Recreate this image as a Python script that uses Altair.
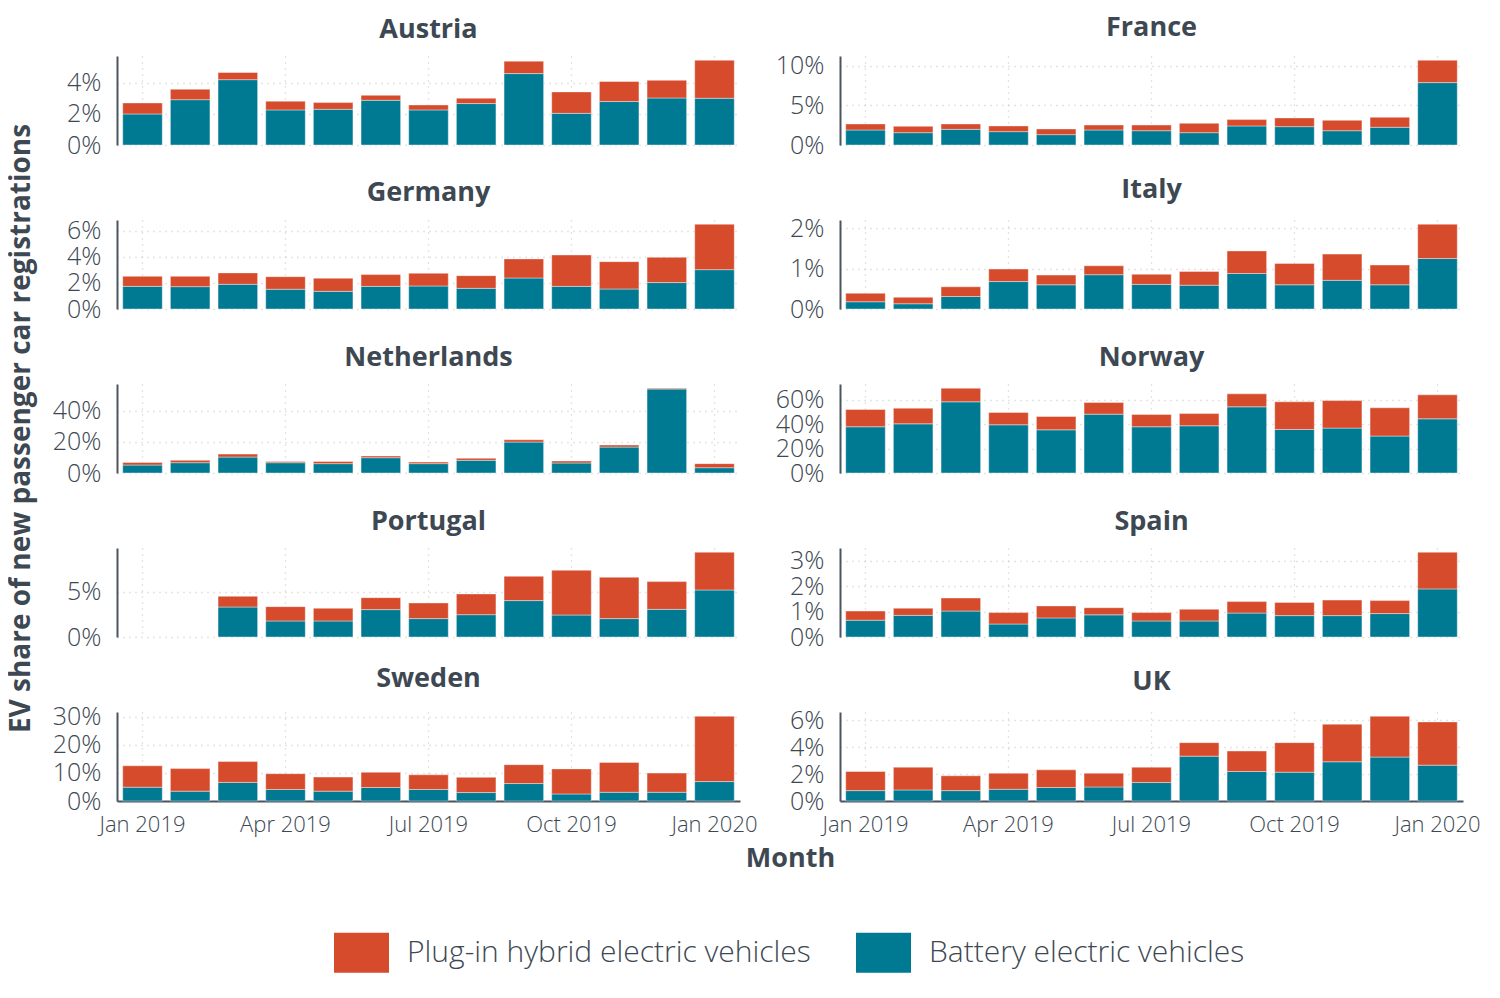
import altair as alt
import pandas as pd

MONTHS = ["Jan 2019", "Feb 2019", "Mar 2019", "Apr 2019", "May 2019", "Jun 2019",
          "Jul 2019", "Aug 2019", "Sep 2019", "Oct 2019", "Nov 2019", "Dec 2019", "Jan 2020"]
TICK_MONTHS = ["Jan 2019", "Apr 2019", "Jul 2019", "Oct 2019", "Jan 2020"]
SERIES = ["Plug-in hybrid electric vehicles", "Battery electric vehicles"]
COLORS = ["#D64B2C", "#007A93"]

COUNTRIES = ["Austria", "France", "Germany", "Italy", "Netherlands",
             "Norway", "Portugal", "Spain", "Sweden", "UK"]

# EV share (%) of new passenger car registrations, battery electric
BEV = {
    "Austria":     [2.00, 2.92, 4.21, 2.26, 2.30, 2.88, 2.26, 2.67, 4.60, 2.04, 2.80, 3.03, 3.01],
    "France":      [1.90, 1.56, 1.98, 1.69, 1.31, 1.90, 1.81, 1.56, 2.41, 2.32, 1.81, 2.24, 7.89],
    "Germany":     [1.73, 1.71, 1.89, 1.51, 1.35, 1.73, 1.76, 1.58, 2.37, 1.73, 1.53, 2.02, 3.01],
    "Italy":       [0.18, 0.13, 0.31, 0.68, 0.60, 0.85, 0.61, 0.59, 0.88, 0.60, 0.71, 0.60, 1.25],
    "Netherlands": [5.1, 6.6, 10.2, 6.6, 6.0, 9.8, 6.0, 8.1, 19.8, 6.4, 16.6, 53.8, 3.4],
    "Norway":      [37.8, 40.2, 58.2, 39.4, 35.3, 48.1, 37.8, 38.6, 54.1, 35.6, 36.7, 30.2, 44.3],
    "Portugal":    [None, None, 3.33, 1.78, 1.78, 3.04, 2.04, 2.48, 4.04, 2.44, 2.04, 3.07, 5.22],
    "Spain":       [0.66, 0.85, 1.02, 0.51, 0.75, 0.87, 0.63, 0.63, 0.94, 0.84, 0.84, 0.92, 1.89],
    "Sweden":      [4.9, 3.5, 6.6, 4.1, 3.5, 4.8, 4.1, 3.0, 6.2, 2.5, 3.1, 3.1, 6.9],
    "UK":          [0.77, 0.82, 0.77, 0.87, 1.00, 1.04, 1.37, 3.33, 2.19, 2.14, 2.91, 3.26, 2.66],
}
# plug-in hybrid electric
PHEV = {
    "Austria":     [0.71, 0.67, 0.46, 0.56, 0.43, 0.32, 0.32, 0.34, 0.80, 1.38, 1.29, 1.14, 2.45],
    "France":      [0.76, 0.80, 0.68, 0.72, 0.72, 0.63, 0.72, 1.18, 0.80, 1.10, 1.31, 1.26, 2.83],
    "Germany":     [0.77, 0.79, 0.87, 0.96, 1.00, 0.90, 0.97, 0.97, 1.46, 2.40, 2.09, 1.93, 3.47],
    "Italy":       [0.21, 0.16, 0.24, 0.31, 0.24, 0.22, 0.25, 0.34, 0.56, 0.53, 0.65, 0.49, 0.85],
    "Netherlands": [1.7, 1.5, 1.9, 0.8, 1.4, 1.1, 1.0, 1.3, 1.5, 1.3, 1.3, 0.5, 2.6],
    "Norway":      [14.1, 12.8, 11.1, 10.1, 10.9, 9.5, 10.0, 10.0, 10.6, 22.6, 22.5, 23.1, 19.6],
    "Portugal":    [None, None, 1.19, 1.59, 1.41, 1.33, 1.74, 2.30, 2.70, 4.97, 4.59, 3.08, 4.19],
    "Spain":       [0.36, 0.28, 0.51, 0.45, 0.47, 0.28, 0.33, 0.46, 0.45, 0.52, 0.61, 0.51, 1.44],
    "Sweden":      [7.6, 8.0, 7.4, 5.6, 5.0, 5.4, 5.2, 5.4, 6.7, 8.9, 10.6, 6.8, 23.2],
    "UK":          [1.42, 1.69, 1.10, 1.19, 1.31, 1.02, 1.14, 1.00, 1.52, 2.19, 2.79, 3.03, 3.21],
}
Y_TICKS = {
    "Austria": [0, 2, 4], "France": [0, 5, 10], "Germany": [0, 2, 4, 6],
    "Italy": [0, 1, 2], "Netherlands": [0, 20, 40], "Norway": [0, 20, 40, 60],
    "Portugal": [0, 5], "Spain": [0, 1, 2, 3], "Sweden": [0, 10, 20, 30], "UK": [0, 2, 4, 6],
}

FONT = "Open Sans"
TEXT = "#3d4852"
GRID = "#c9c9c9"
W, H = 623, 89


def panel(idx, country):
    rows = []
    totals = []
    for m, b, p in zip(MONTHS, BEV[country], PHEV[country]):
        if b is None:
            continue
        rows.append({"month": m, "series": SERIES[1], "value": b, "ord": 0})
        rows.append({"month": m, "series": SERIES[0], "value": p, "ord": 1})
        totals.append(b + p)
    df = pd.DataFrame(rows)
    ymax = max(totals) * 1.05
    bottom = idx >= 8
    left = idx % 2 == 0

    xaxis_kw = dict(values=TICK_MONTHS, bandPosition=0.5, grid=True, gridDash=[1, 5],
                    gridColor=GRID, gridWidth=1.3, ticks=False, labels=bottom,
                    domain=bottom, labelAngle=0, labelOverlap=False)
    if bottom and left:
        xaxis_kw.update(title="Month", titleX=673, titleY=57, titleAlign="center",
                        titleBaseline="middle", titleFontSize=27, titleFontWeight="bold",
                        titleColor=TEXT, titleFont=FONT)
    else:
        xaxis_kw.update(title=None)

    yaxis_kw = dict(values=Y_TICKS[country], grid=True, gridDash=[1, 5], gridColor=GRID,
                    gridWidth=1.3, ticks=False, labelExpr="datum.value + '%'", title=None,
                    labelOverlap=False)

    return alt.Chart(df).mark_bar(stroke="white", strokeWidth=0.4).encode(
        x=alt.X("month:N", scale=alt.Scale(domain=MONTHS, paddingInner=0.17, paddingOuter=0.12),
                axis=alt.Axis(**xaxis_kw)),
        y=alt.Y("value:Q", stack="zero",
                scale=alt.Scale(domain=[0, ymax], nice=False, zero=True),
                axis=alt.Axis(**yaxis_kw)),
        color=alt.Color("series:N", scale=alt.Scale(domain=SERIES, range=COLORS),
                        legend=alt.Legend(orient="none", legendX=217, legendY=869,
                                          direction="horizontal", title=None,
                                          symbolType="M-1,-0.727H1V0.727H-1Z",
                                          symbolSize=3025, symbolStrokeWidth=0,
                                          labelFontSize=30, labelOffset=18, columnPadding=45,
                                          labelFont=FONT, labelFontWeight=300,
                                          labelColor=TEXT, labelLimit=700)),
        order=alt.Order("ord:Q"),
    ).properties(width=W, height=H,
                 title=alt.TitleParams(country, frame="group", anchor="middle"))


charts = [panel(i, c) for i, c in enumerate(COUNTRIES)]

chart = alt.concat(*charts, columns=2, spacing=alt.RowColnumber(row=75, column=100),
                   bounds="flush").resolve_scale(
    color="shared", x="independent", y="independent"
).properties(
    padding={"left": 0, "top": 5, "right": 5, "bottom": 5},
    title=alt.TitleParams("EV share of new passenger car registrations", orient="left",
                          anchor="middle", frame="bounds", fontSize=28, offset=16, dx=65),
).configure_view(stroke=None).configure_axis(
    labelFont=FONT, labelFontSize=25, labelFontWeight=300, labelColor=TEXT,
    domainColor="#4b5560", domainWidth=2, labelPadding=16,
).configure_axisX(labelFontSize=22, labelPadding=13).configure_title(
    font=FONT, fontSize=27, fontWeight="bold", color=TEXT, offset=12
)

chart.save("out.html", embed_options={"renderer": "svg", "actions": False})
